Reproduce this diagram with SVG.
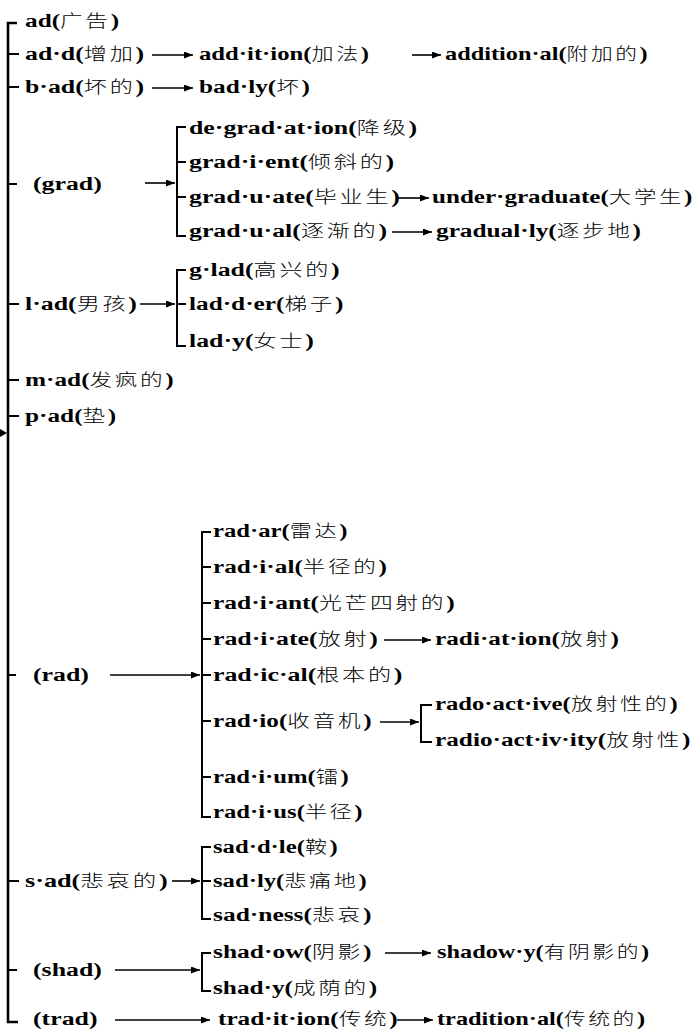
<svg xmlns="http://www.w3.org/2000/svg" width="695" height="1034" viewBox="0 0 695 1034">
<defs>
<style>
.t{font-family:"Liberation Serif","Noto Sans CJK SC",serif;font-weight:bold;font-size:19px;fill:#000}
.c{font-family:"Noto Sans CJK SC",sans-serif;font-weight:300;font-size:17px;letter-spacing:2px}
.br{fill:none;stroke:#000;stroke-width:2}
.main{fill:none;stroke:#000;stroke-width:2.6}
.ar{fill:none;stroke:#000;stroke-width:1.6;marker-end:url(#ah)}
</style>
<marker id="ah" markerUnits="userSpaceOnUse" markerWidth="9" markerHeight="7" refX="9" refY="3.5" orient="auto"><path d="M0,0 L9,3.5 L0,7 z" fill="#000"/></marker>
</defs>
<rect width="695" height="1034" fill="#fff"/>
<g id="connectors">
<path class="main" d="M17,23 H8 V1022 H18"/>
<path class="br" d="M8,54 H19 M8,87 H19 M8,184 H17 M8,304 H19 M8,380 H19 M8,416 H19 M8,675 H16 M8,881 H19 M8,970 H17"/>
<polygon points="0,429 7,433 0,437" fill="#000"/>
<path class="br" d="M186,127 H177 V236 H186 M177,162 H186 M177,197 H186"/>
<path class="br" d="M186,270 H177 V346 H186 M177,304 H186"/>
<path class="br" d="M211,532 H202 V817 H211 M202,567 H211 M202,603 H211 M202,639 H211 M202,675 H211 M202,721 H211 M202,777 H211"/>
<path class="br" d="M432,705 H421 V742 H432"/>
<path class="br" d="M211,847 H202 V919 H211 M202,881 H211"/>
<path class="br" d="M211,953 H202 V991 H211"/>
<line class="ar" x1="152" y1="55" x2="193" y2="55"/>
<line class="ar" x1="412" y1="55" x2="441" y2="55"/>
<line class="ar" x1="152" y1="88" x2="193" y2="88"/>
<line class="ar" x1="145" y1="183" x2="175" y2="183"/>
<line class="ar" x1="398" y1="198" x2="429" y2="198"/>
<line class="ar" x1="392" y1="232" x2="432" y2="232"/>
<line class="ar" x1="140" y1="304" x2="175" y2="304"/>
<line class="ar" x1="384" y1="640" x2="431" y2="640"/>
<line class="ar" x1="110" y1="675" x2="200" y2="675"/>
<line class="ar" x1="380" y1="722" x2="419" y2="722"/>
<line class="ar" x1="172" y1="881" x2="200" y2="881"/>
<line class="ar" x1="385" y1="953" x2="431" y2="953"/>
<line class="ar" x1="115" y1="970" x2="200" y2="970"/>
<line class="ar" x1="115" y1="1020" x2="210" y2="1020"/>
<line class="ar" x1="397" y1="1020" x2="433" y2="1020"/>
</g>
<g id="n-ad"><text class="t" transform="translate(25,27) scale(1.33,1)">ad(<tspan class="c">广告</tspan>)</text></g>
<g id="n-add"><text class="t" transform="translate(25,60) scale(1.36,1)">ad·d(<tspan class="c">增加</tspan>)</text></g>
<g id="n-addition"><text class="t" transform="translate(199,60) scale(1.3,1)">add·it·ion(<tspan class="c">加法</tspan>)</text></g>
<g id="n-additional"><text class="t" transform="translate(445,60) scale(1.28,1)">addition·al(<tspan class="c">附加的</tspan>)</text></g>
<g id="n-bad"><text class="t" transform="translate(25,93) scale(1.36,1)">b·ad(<tspan class="c">坏的</tspan>)</text></g>
<g id="n-badly"><text class="t" transform="translate(199,93) scale(1.33,1)">bad·ly(<tspan class="c">坏</tspan>)</text></g>
<g id="n-grad"><text class="t" transform="translate(33,190) scale(1.36,1)">(grad)</text></g>
<g id="n-degradation"><text class="t" transform="translate(189,134) scale(1.36,1)">de·grad·at·ion(<tspan class="c">降级</tspan>)</text></g>
<g id="n-gradient"><text class="t" transform="translate(189,168) scale(1.36,1)">grad·i·ent(<tspan class="c">倾斜的</tspan>)</text></g>
<g id="n-graduate"><text class="t" transform="translate(189,203) scale(1.36,1)">grad·u·ate(<tspan class="c">毕业生</tspan>)</text></g>
<g id="n-undergraduate"><text class="t" transform="translate(432,203) scale(1.32,1)">under·graduate(<tspan class="c">大学生</tspan>)</text></g>
<g id="n-gradual"><text class="t" transform="translate(189,237) scale(1.36,1)">grad·u·al(<tspan class="c">逐渐的</tspan>)</text></g>
<g id="n-gradually"><text class="t" transform="translate(436,237) scale(1.33,1)">gradual·ly(<tspan class="c">逐步地</tspan>)</text></g>
<g id="n-glad"><text class="t" transform="translate(189,276) scale(1.36,1)">g·lad(<tspan class="c">高兴的</tspan>)</text></g>
<g id="n-lad"><text class="t" transform="translate(25,310) scale(1.36,1)">l·ad(<tspan class="c">男孩</tspan>)</text></g>
<g id="n-ladder"><text class="t" transform="translate(189,310) scale(1.33,1)">lad·d·er(<tspan class="c">梯子</tspan>)</text></g>
<g id="n-lady"><text class="t" transform="translate(189,347) scale(1.36,1)">lad·y(<tspan class="c">女士</tspan>)</text></g>
<g id="n-mad"><text class="t" transform="translate(25,386) scale(1.33,1)">m·ad(<tspan class="c">发疯的</tspan>)</text></g>
<g id="n-pad"><text class="t" transform="translate(25,422) scale(1.33,1)">p·ad(<tspan class="c">垫</tspan>)</text></g>
<g id="n-rad"><text class="t" transform="translate(33,681) scale(1.36,1)">(rad)</text></g>
<g id="n-radar"><text class="t" transform="translate(213,537) scale(1.3,1)">rad·ar(<tspan class="c">雷达</tspan>)</text></g>
<g id="n-radial"><text class="t" transform="translate(213,573) scale(1.33,1)">rad·i·al(<tspan class="c">半径的</tspan>)</text></g>
<g id="n-radiant"><text class="t" transform="translate(213,609) scale(1.34,1)">rad·i·ant(<tspan class="c">光芒四射的</tspan>)</text></g>
<g id="n-radiate"><text class="t" transform="translate(213,645) scale(1.36,1)">rad·i·ate(<tspan class="c">放射</tspan>)</text></g>
<g id="n-radiation"><text class="t" transform="translate(435,645) scale(1.33,1)">radi·at·ion(<tspan class="c">放射</tspan>)</text></g>
<g id="n-radical"><text class="t" transform="translate(213,681) scale(1.36,1)">rad·ic·al(<tspan class="c">根本的</tspan>)</text></g>
<g id="n-radio"><text class="t" transform="translate(213,727) scale(1.33,1)">rad·io(<tspan class="c">收音机</tspan>)</text></g>
<g id="n-radoactive"><text class="t" transform="translate(435,710) scale(1.3,1)">rado·act·ive(<tspan class="c">放射性的</tspan>)</text></g>
<g id="n-radioactivity"><text class="t" transform="translate(435,746) scale(1.33,1)">radio·act·iv·ity(<tspan class="c">放射性</tspan>)</text></g>
<g id="n-radium"><text class="t" transform="translate(213,783) scale(1.3,1)">rad·i·um(<tspan class="c">镭</tspan>)</text></g>
<g id="n-radius"><text class="t" transform="translate(213,818) scale(1.3,1)">rad·i·us(<tspan class="c">半径</tspan>)</text></g>
<g id="n-saddle"><text class="t" transform="translate(213,853) scale(1.3,1)">sad·d·le(<tspan class="c">鞍</tspan>)</text></g>
<g id="n-sad"><text class="t" transform="translate(25,887) scale(1.38,1)">s·ad(<tspan class="c">悲哀的</tspan>)</text></g>
<g id="n-sadly"><text class="t" transform="translate(213,887) scale(1.3,1)">sad·ly(<tspan class="c">悲痛地</tspan>)</text></g>
<g id="n-sadness"><text class="t" transform="translate(213,921) scale(1.34,1)">sad·ness(<tspan class="c">悲哀</tspan>)</text></g>
<g id="n-shad"><text class="t" transform="translate(33,976) scale(1.36,1)">(shad)</text></g>
<g id="n-shadow"><text class="t" transform="translate(213,958) scale(1.34,1)">shad·ow(<tspan class="c">阴影</tspan>)</text></g>
<g id="n-shadowy"><text class="t" transform="translate(437,958) scale(1.28,1)">shadow·y(<tspan class="c">有阴影的</tspan>)</text></g>
<g id="n-shady"><text class="t" transform="translate(213,994) scale(1.33,1)">shad·y(<tspan class="c">成荫的</tspan>)</text></g>
<g id="n-trad"><text class="t" transform="translate(33,1025) scale(1.36,1)">(trad)</text></g>
<g id="n-tradition"><text class="t" transform="translate(218,1025) scale(1.33,1)">trad·it·ion(<tspan class="c">传统</tspan>)</text></g>
<g id="n-traditional"><text class="t" transform="translate(437,1025) scale(1.28,1)">tradition·al(<tspan class="c">传统的</tspan>)</text></g>
</svg>
